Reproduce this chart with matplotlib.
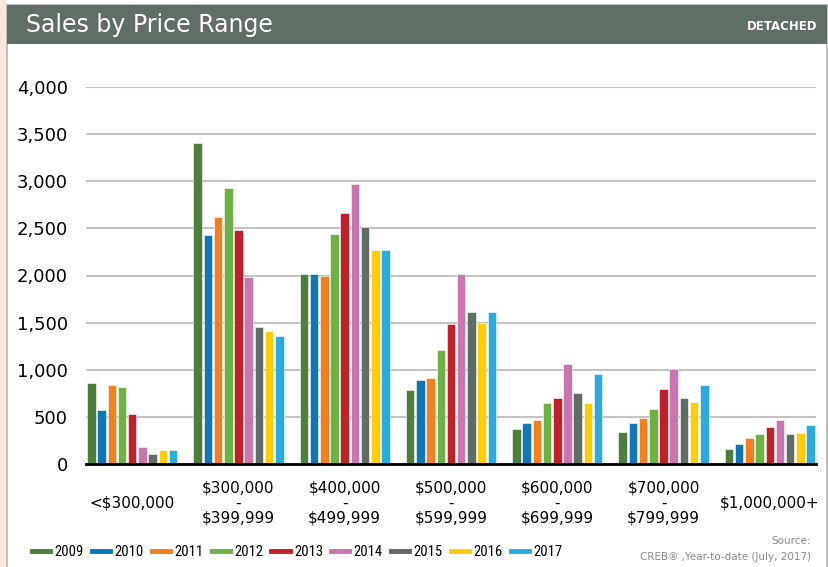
import numpy as np
import matplotlib
matplotlib.use("Agg")
import matplotlib.pyplot as plt
from matplotlib.patches import Rectangle
from matplotlib.lines import Line2D

ranges = ["<$300,000", "$300,000\n-\n$399,999", "$400,000\n-\n$499,999",
          "$500,000\n-\n$599,999", "$600,000\n-\n$699,999", "$700,000\n-\n$799,999",
          "$1,000,000+"]
years = ["2009", "2010", "2011", "2012", "2013", "2014", "2015", "2016", "2017"]

# sales per price range, one list per year
s2009 = [855, 3408, 2014, 780, 372, 335, 160]
s2010 = [570, 2427, 2014, 890, 430, 433, 216]
s2011 = [835, 2621, 1996, 910, 470, 486, 277]
s2012 = [817, 2926, 2438, 1212, 642, 585, 316]
s2013 = [532, 2483, 2668, 1484, 702, 798, 394]
s2014 = [185, 1987, 2975, 2014, 1064, 1007, 468]
s2015 = [107, 1449, 2516, 1615, 755, 702, 316]
s2016 = [145, 1410, 2269, 1498, 642, 663, 333]
s2017 = [145, 1353, 2269, 1615, 950, 833, 411]
sales = [s2009, s2010, s2011, s2012, s2013, s2014, s2015, s2016, s2017]

colors = ["#4e7e3c", "#0f76bc", "#f47f20", "#6cb245", "#c1202a",
          "#c975af", "#5e6e64", "#ffcc08", "#29abe2"]

W, H = 829, 567
fig = plt.figure(figsize=(W / 100, H / 100), dpi=100)
fig.patch.set_facecolor("white")

def px(x0, y0, w, h):
    # pixel box (top-left origin) -> figure fraction
    return (x0 / W, 1 - (y0 + h) / H, w / W, h / H)

# peach strip on the left and the framed panel
x, y, w, h = px(0, 0, 7, H)
fig.patches.append(Rectangle((x, y), w, h, transform=fig.transFigure,
                             facecolor="#fce8da", edgecolor="none", zorder=-3))
x, y, w, h = px(7, 5, 820, H)
fig.patches.append(Rectangle((x, y), w, h, transform=fig.transFigure,
                             facecolor="white", edgecolor="#b5b5b5", lw=1.2, zorder=-2))
x, y, w, h = px(7, 5, 820, 39)
fig.patches.append(Rectangle((x, y), w, h, transform=fig.transFigure,
                             facecolor="#5f6f65", edgecolor="none", zorder=-1))

fig.text(26 / W, 1 - 25 / H, "Sales by Price Range", color="white",
         fontsize=17, va="center", ha="left")
fig.text(817 / W, 1 - 27 / H, "DETACHED", color="white", fontsize=8.5,
         fontweight="bold", va="center", ha="right")

ax = fig.add_axes(px(86, 87, 730, 377))
ax.set_zorder(2)
ax.patch.set_alpha(0)
idx = np.arange(len(ranges))
slot = 0.0962
for k in range(len(years)):
    ax.bar(idx + (k - 4) * slot, sales[k], width=0.08, color=colors[k],
           edgecolor="white", linewidth=0.4, zorder=3)

ax.set_xlim(-0.435, 6.435)
ax.set_ylim(0, 4000)
ax.set_yticks(np.arange(0, 4001, 500))
ax.set_yticklabels([f"{v:,}" for v in range(0, 4001, 500)], fontsize=13)
ax.yaxis.grid(True, color="#c4c4c4", lw=1.5, zorder=0)
ax.set_axisbelow(True)
ax.tick_params(axis="y", length=0, pad=13)
ax.set_xticks(idx)
ax.set_xticklabels(ranges, fontsize=11, linespacing=1.0)
ax.tick_params(axis="x", length=0, pad=28)
for lab in ax.get_xticklabels():
    lab.set_va("center")
for side in ["left", "right", "top"]:
    ax.spines[side].set_visible(False)
ax.spines["bottom"].set_linewidth(2)
ax.spines["bottom"].set_color("black")
ax.spines["bottom"].set_zorder(5)

handles = [Line2D([], [], color=c, lw=3.5) for c in colors]
fig.legend(handles, years, loc="center left", bbox_to_anchor=(19 / W, 1 - 552 / H),
           ncol=9, frameon=False, handlelength=1.25, handletextpad=0.3,
           columnspacing=0.55,
           prop={"family": ["Roboto Condensed", "DejaVu Sans"], "size": 10.5})

fig.text(811 / W, 1 - 541 / H, "Source:", color="#8c8c8c", fontsize=7.5,
         ha="right", va="center")
fig.text(811 / W, 1 - 557 / H, "CREB\u00ae ,Year-to-date (July, 2017)", color="#8c8c8c",
         fontsize=7.5, ha="right", va="center")

fig.savefig("out.png", dpi=100)
